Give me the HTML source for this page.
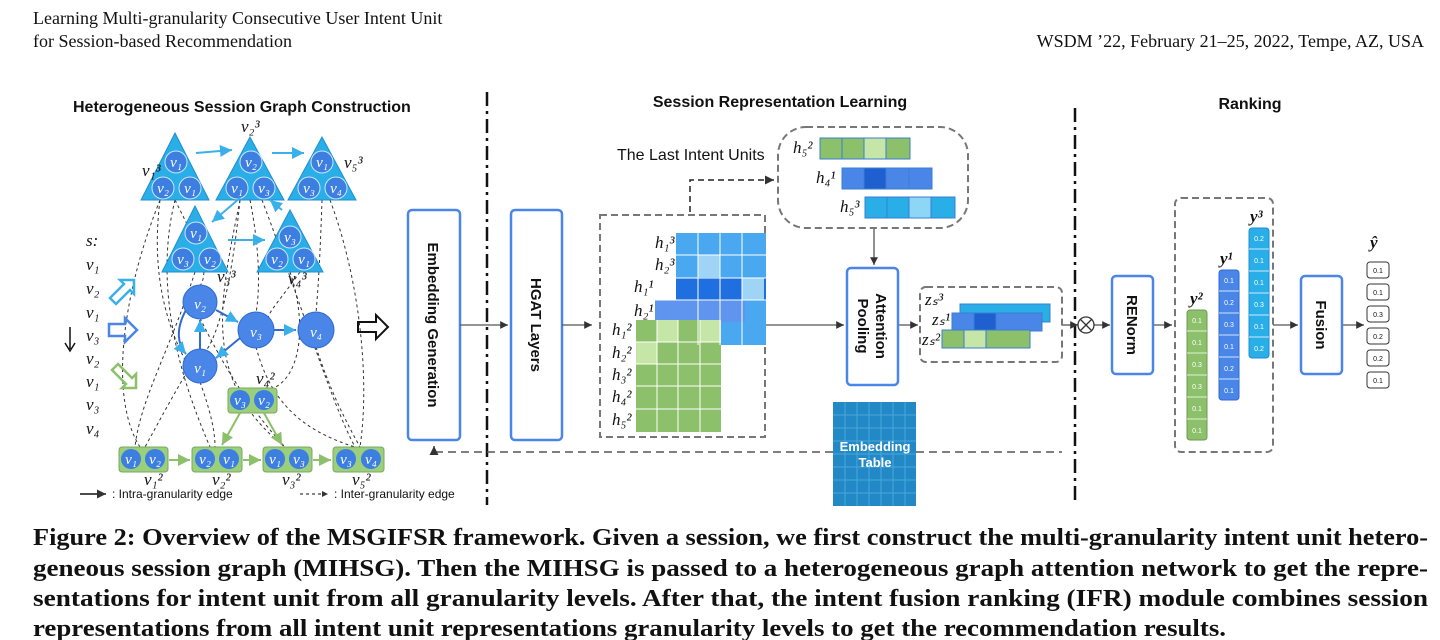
<!DOCTYPE html>
<html><head><meta charset="utf-8"><style>
html,body{margin:0;padding:0;background:#fff;width:1440px;height:640px;overflow:hidden}
svg{display:block}
.h{font-family:"Liberation Sans",sans-serif;font-weight:bold;font-size:16px;fill:#111}
.hd{font-family:"Liberation Serif",serif;font-size:18px;fill:#111}
.cap{font-family:"Liberation Serif",serif;font-weight:bold;font-size:24.5px;fill:#111}
.v{font-family:"Liberation Serif",serif;font-style:italic;font-size:17px;fill:#111}
.vw{font-family:"Liberation Serif",serif;font-style:italic;font-size:15px;fill:#fff}
.bt{font-family:"Liberation Sans",sans-serif;font-weight:bold;font-size:15px;fill:#111}
.s{font-family:"Liberation Sans",sans-serif;font-size:12px;fill:#111}
.n{font-family:"Liberation Sans",sans-serif;font-size:7px;fill:#fff;text-anchor:middle}
</style></head><body>
<svg width="1440" height="640" viewBox="0 0 1440 640" xmlns="http://www.w3.org/2000/svg">
<defs>
<marker id="a" markerWidth="8" markerHeight="8" refX="6" refY="3" orient="auto"><path d="M0,0 L6,3 L0,6z" fill="#333"/></marker>
<marker id="ab" markerWidth="8" markerHeight="8" refX="6" refY="3" orient="auto"><path d="M0,0 L6,3 L0,6z" fill="#3ab0ea"/></marker>
<marker id="ag" markerWidth="8" markerHeight="8" refX="6" refY="3" orient="auto"><path d="M0,0 L6,3 L0,6z" fill="#8cc06a"/></marker>
</defs>
<text class="hd" x="33" y="24">Learning Multi-granularity Consecutive User Intent Unit</text>
<text class="hd" x="33" y="47">for Session-based Recommendation</text>
<text class="hd" x="1424" y="47" text-anchor="end">WSDM ’22, February 21–25, 2022, Tempe, AZ, USA</text>

<text class="h" x="73" y="112">Heterogeneous Session Graph Construction</text>
<text class="h" x="780" y="107" text-anchor="middle">Session Representation Learning</text>
<text class="h" x="1250" y="109" text-anchor="middle">Ranking</text>

<line x1="487" y1="92" x2="487" y2="505" stroke="#111" stroke-width="2.5" stroke-dasharray="14,5,3,5"/>
<line x1="1075" y1="108" x2="1075" y2="505" stroke="#111" stroke-width="2.5" stroke-dasharray="14,5,3,5"/>

<g fill="none" stroke="#333" stroke-width="1" stroke-dasharray="3,3">
<path d="M160,200 C120,300 110,400 140,447"/><path d="M175,200 C150,300 190,400 210,447"/>
<path d="M240,200 C220,300 200,380 285,447"/><path d="M262,200 C300,300 330,400 355,447"/>
<path d="M330,200 C360,280 370,380 360,447"/><path d="M195,272 C170,350 140,400 135,447"/>
<path d="M290,272 C310,330 300,400 250,390"/><path d="M200,318 C230,380 260,420 285,447"/>
<path d="M200,350 C170,400 160,420 145,447"/><path d="M256,347 C270,400 300,430 355,447"/>
<path d="M316,347 C330,390 345,420 360,447"/><path d="M200,382 C210,410 215,430 215,447"/>
<path d="M175,200 C200,250 210,270 200,286"/><path d="M250,200 C260,250 260,290 256,313"/>
<path d="M322,200 C320,260 318,290 316,313"/><path d="M160,200 C150,280 170,330 185,360"/>
<path d="M300,272 C280,300 270,310 268,318"/><path d="M240,200 C230,300 215,340 205,352"/>
</g>
<g fill="#2aaee8" stroke="#1e8fd0" stroke-width="1">
<polygon points="175,133 141,200 209,200"/><polygon points="250,137 216,200 284,200"/>
<polygon points="322,137 288,200 356,200"/><polygon points="195,206 162,272 228,272"/>
<polygon points="290,210 257,272 323,272"/>
</g>
<g fill="#3d7fe0" stroke="#c9e6fb" stroke-width="1">
<circle cx="176" cy="162" r="11"/><circle cx="163" cy="188" r="11"/><circle cx="190" cy="188" r="11"/>
<circle cx="251" cy="162" r="11"/><circle cx="237" cy="188" r="11"/><circle cx="264" cy="188" r="11"/>
<circle cx="322" cy="162" r="11"/><circle cx="309" cy="188" r="11"/><circle cx="336" cy="188" r="11"/>
<circle cx="196" cy="233" r="11"/><circle cx="183" cy="259" r="11"/><circle cx="210" cy="259" r="11"/>
<circle cx="290" cy="237" r="11"/><circle cx="277" cy="259" r="11"/><circle cx="304" cy="259" r="11"/>
</g>
<g class="vw" text-anchor="middle">
<text x="176" y="167">v₁</text><text x="163" y="193">v₂</text><text x="190" y="193">v₁</text>
<text x="251" y="167">v₂</text><text x="237" y="193">v₁</text><text x="264" y="193">v₃</text>
<text x="322" y="167">v₁</text><text x="309" y="193">v₃</text><text x="336" y="193">v₄</text>
<text x="196" y="238">v₁</text><text x="183" y="264">v₃</text><text x="210" y="264">v₂</text>
<text x="290" y="242">v₃</text><text x="277" y="264">v₂</text><text x="304" y="264">v₁</text>
</g>
<g class="v" font-size="13"><text x="142" y="176">v₁³</text><text x="241" y="132">v₂³</text><text x="344" y="168">v₅³</text>
<text x="217" y="282">v₃³</text><text x="288" y="284">v₄³</text></g>
<g stroke="#3ab0ea" stroke-width="2" fill="none" marker-end="url(#ab)">
<line x1="196" y1="153" x2="232" y2="150"/><line x1="272" y1="153" x2="304" y2="153"/>
<line x1="240" y1="198" x2="212" y2="222"/><line x1="228" y1="240" x2="265" y2="240"/><line x1="282" y1="210" x2="270" y2="200"/>
</g>
<g stroke="#2f6bd0" stroke-width="2" fill="none" marker-end="url(#ab)">
<line x1="216" y1="310" x2="238" y2="322"/><line x1="273" y1="330" x2="296" y2="330"/>
<line x1="200" y1="350" x2="200" y2="320"/><line x1="240" y1="338" x2="216" y2="358"/>
<path d="M186,310 C175,330 178,345 186,354"/>
</g>
<g fill="#4a86e8" stroke="#2f6bd0"><circle cx="200" cy="302" r="17"/><circle cx="256" cy="330" r="18"/>
<circle cx="316" cy="330" r="18"/><circle cx="200" cy="366" r="17"/></g>
<g class="vw" font-size="20" text-anchor="middle"><text x="200" y="309">v₂</text><text x="256" y="337">v₃</text><text x="316" y="337">v₄</text><text x="200" y="373">v₁</text></g>
<g fill="#9ccf7c" stroke="#7aa860"><rect x="119" y="447" width="49" height="25" rx="3"/><rect x="192" y="447" width="50" height="25" rx="3"/>
<rect x="263" y="447" width="49" height="25" rx="3"/><rect x="333" y="447" width="51" height="25" rx="3"/><rect x="228" y="388" width="49" height="25" rx="3"/></g>
<g fill="#3d7fe0"><circle cx="131" cy="459" r="10"/><circle cx="155" cy="459" r="10"/><circle cx="205" cy="459" r="10"/><circle cx="229" cy="459" r="10"/>
<circle cx="275" cy="459" r="10"/><circle cx="299" cy="459" r="10"/><circle cx="346" cy="459" r="10"/><circle cx="371" cy="459" r="10"/>
<circle cx="240" cy="400" r="10"/><circle cx="264" cy="400" r="10"/></g>
<g class="vw" text-anchor="middle" font-size="14"><text x="131" y="464">v₁</text><text x="155" y="464">v₂</text><text x="205" y="464">v₂</text><text x="229" y="464">v₁</text>
<text x="275" y="464">v₁</text><text x="299" y="464">v₃</text><text x="346" y="464">v₃</text><text x="371" y="464">v₄</text><text x="240" y="405">v₃</text><text x="264" y="405">v₂</text></g>
<g class="v" font-size="13"><text x="144" y="485">v₁²</text><text x="212" y="485">v₂²</text><text x="282" y="485">v₃²</text><text x="352" y="485">v₅²</text><text x="256" y="384">v₄²</text></g>
<g stroke="#8cc06a" stroke-width="2" marker-end="url(#ag)"><line x1="169" y1="460" x2="190" y2="460"/><line x1="243" y1="460" x2="261" y2="460"/>
<line x1="313" y1="460" x2="331" y2="460"/><line x1="240" y1="413" x2="222" y2="445"/><line x1="264" y1="413" x2="282" y2="445"/></g>
<g class="v"><text x="86" y="246">s:</text><text x="86" y="270">v₁</text><text x="86" y="294">v₂</text><text x="86" y="318">v₁</text>
<text x="86" y="341">v₃</text><text x="86" y="364">v₂</text><text x="86" y="387">v₁</text><text x="86" y="410">v₃</text><text x="86" y="434">v₄</text></g>
<path d="M70,327 v22 M65,343 l5,8 l5,-8" stroke="#111" stroke-width="1.5" fill="none"/>
<path d="M110,298 l14,-14 l-4,-4 h14 v14 l-4,-4 l-14,14z" fill="none" stroke="#3ab0ea" stroke-width="2.5"/>
<path d="M109,324 h16 v-6 l12,12 l-12,12 v-6 h-16z" fill="none" stroke="#4a86e8" stroke-width="2.5"/>
<path d="M112,370 l14,14 l-4,4 h14 v-14 l-4,4 l-14,-14z" fill="none" stroke="#8cc06a" stroke-width="2.5"/>
<path d="M358,322 h18 v-7 l12,12 l-12,12 v-7 h-18z" fill="none" stroke="#111" stroke-width="2"/>
<line x1="80" y1="494" x2="106" y2="494" stroke="#111" stroke-width="1.5" marker-end="url(#a)"/>
<text class="s" x="112" y="498">: Intra-granularity edge</text>
<line x1="300" y1="494" x2="328" y2="494" stroke="#111" stroke-dasharray="3,3" marker-end="url(#a)"/>
<text class="s" x="334" y="498">: Inter-granularity edge</text>

<rect x="408" y="210" width="52" height="230" rx="4" fill="#fff" stroke="#4a86e8" stroke-width="2.5"/>
<text class="bt" transform="translate(428,325) rotate(90)" text-anchor="middle">Embedding Generation</text>
<rect x="511" y="210" width="51" height="230" rx="4" fill="#fff" stroke="#4a86e8" stroke-width="2.5"/>
<text class="bt" transform="translate(531,325) rotate(90)" text-anchor="middle">HGAT Layers</text>
<g stroke="#555" stroke-width="1.3" fill="none" marker-end="url(#a)">
<line x1="460" y1="325" x2="508" y2="325"/><line x1="562" y1="325" x2="592" y2="325"/>
<line x1="766" y1="325" x2="844" y2="325"/><line x1="898" y1="325" x2="918" y2="325"/>
<line x1="1062" y1="325" x2="1078" y2="325"/><line x1="1094" y1="325" x2="1110" y2="325"/>
<line x1="1153" y1="325" x2="1172" y2="325"/><line x1="1273" y1="325" x2="1298" y2="325"/><line x1="1342" y1="325" x2="1364" y2="325"/>
<line x1="874" y1="228" x2="874" y2="265"/>
</g>
<path d="M600,215 H765 V437 H600z" fill="none" stroke="#777" stroke-width="2" stroke-dasharray="7,4"/>
<path d="M690,212 V180 H774" fill="none" stroke="#222" stroke-width="1.5" stroke-dasharray="6,4" marker-end="url(#a)"/>
<text x="617" y="160" font-family="Liberation Sans,sans-serif" font-size="16" fill="#111">The Last Intent Units</text>
<rect x="778" y="127" width="190" height="101" rx="28" fill="none" stroke="#777" stroke-width="2" stroke-dasharray="7,4"/>
<rect x="676" y="233" width="90" height="112" fill="#4aa8f0"/>
<g fill="#1f6fe0"><rect x="676" y="278" width="90" height="22"/></g>
<g fill="#5f95ee"><rect x="655" y="300" width="90" height="22"/></g>
<g fill="#9fd4f6"><rect x="698" y="255" width="22" height="22"/><rect x="742" y="278" width="22" height="22"/></g>
<rect x="636" y="320" width="85" height="112" fill="#8cc06a"/>
<g fill="#c6e6a8"><rect x="657" y="320" width="21" height="22"/><rect x="636" y="342" width="21" height="22"/><rect x="700" y="320" width="21" height="22"/></g>
<g stroke="#fff" stroke-width="1">
<path d="M676,255H766M676,278H766M655,300H766M698,233V345M720,233V345M742,233V345"/>
<path d="M636,342H721M636,364H721M636,386H721M636,409H721M657,320V432M678,320V432M700,320V432"/>
</g>
<g class="v" font-size="15"><text x="655" y="248">h₁³</text><text x="655" y="270">h₂³</text><text x="634" y="292">h₁¹</text><text x="634" y="316">h₂¹</text>
<text x="612" y="335">h₁²</text><text x="612" y="358">h₂²</text><text x="612" y="380">h₃²</text><text x="612" y="402">h₄²</text><text x="612" y="425">h₅²</text></g>
<g stroke="#3a7fd0" stroke-width="1">
<rect x="820" y="138" width="90" height="21" fill="#8cc06a"/><rect x="864" y="138" width="22" height="21" fill="#c6e6a8"/>
<rect x="842" y="168" width="90" height="21" fill="#4a86e8"/><rect x="864" y="168" width="22" height="21" fill="#1f5fd0"/>
<rect x="865" y="197" width="90" height="21" fill="#2aaee8"/><rect x="909" y="197" width="22" height="21" fill="#8dd6f6"/>
<path d="M842,138V159M886,138V159M864,168V189M909,168V189M887,197V218M931,197V218"/>
</g>
<g class="v" font-size="15"><text x="793" y="153">h₅²</text><text x="816" y="183">h₄¹</text><text x="840" y="212">h₅³</text></g>
<rect x="847" y="268" width="51" height="117" rx="4" fill="#fff" stroke="#4a86e8" stroke-width="2.5"/>
<text class="bt" transform="translate(876,326) rotate(90)" text-anchor="middle">Attention</text>
<text class="bt" transform="translate(858,326) rotate(90)" text-anchor="middle">Pooling</text>
<rect x="833" y="402" width="83" height="104" fill="#2389c6"/>
<g stroke="#4aa8dc" stroke-width="1"><path d="M833,415H916M833,428H916M833,441H916M833,454H916M833,467H916M833,480H916M833,493H916M845,402V506M857,402V506M869,402V506M881,402V506M893,402V506M905,402V506"/></g>
<text x="875" y="451" font-family="Liberation Sans,sans-serif" font-weight="bold" font-size="13" fill="#fff" text-anchor="middle">Embedding</text>
<text x="875" y="467" font-family="Liberation Sans,sans-serif" font-weight="bold" font-size="13" fill="#fff" text-anchor="middle">Table</text>
<path d="M833,452 H434 V446" fill="none" stroke="#555" stroke-width="1.5" stroke-dasharray="8,5" marker-end="url(#a)"/>
<line x1="916" y1="452" x2="1062" y2="452" stroke="#555" stroke-width="1.5" stroke-dasharray="8,5"/>
<rect x="920" y="287" width="142" height="75" rx="6" fill="none" stroke="#777" stroke-width="2" stroke-dasharray="7,4"/>
<g stroke="#3a7fd0" stroke-width="1">
<rect x="960" y="304" width="90" height="18" fill="#2aaee8"/>
<rect x="952" y="313" width="90" height="18" fill="#4a86e8"/><rect x="974" y="313" width="22" height="18" fill="#1f5fd0"/>
<rect x="942" y="330" width="88" height="18" fill="#8cc06a"/><rect x="964" y="330" width="22" height="18" fill="#c6e6a8"/>
</g>
<g class="v" font-size="14"><text x="925" y="305">zₛ³</text><text x="932" y="325">zₛ¹</text><text x="922" y="345">zₛ²</text></g>
<circle cx="1086" cy="325" r="8" fill="#fff" stroke="#333" stroke-width="1.3"/>
<path d="M1080,319 l12,12 M1092,319 l-12,12" stroke="#333" stroke-width="1.3"/>
<rect x="1112" y="276" width="41" height="98" rx="4" fill="#fff" stroke="#4a86e8" stroke-width="2.5"/>
<text class="bt" transform="translate(1127,325) rotate(90)" text-anchor="middle">RENorm</text>
<rect x="1175" y="198" width="98" height="254" rx="6" fill="none" stroke="#777" stroke-width="2" stroke-dasharray="7,4"/>
<g fill="#8cc06a" stroke="#6a9a50"><rect x="1187" y="310" width="20" height="130" rx="3"/></g>
<g fill="#4a86e8" stroke="#2f6bd0"><rect x="1219" y="270" width="20" height="130" rx="3"/></g>
<g fill="#2aaee8" stroke="#1e8fd0"><rect x="1249" y="228" width="20" height="130" rx="3"/></g>
<g stroke="#fff" stroke-width="0.8"><path d="M1187,331h20M1187,353h20M1187,375h20M1187,397h20M1187,419h20 M1219,291h20M1219,313h20M1219,335h20M1219,357h20M1219,379h20 M1249,249h20M1249,271h20M1249,293h20M1249,315h20M1249,337h20"/></g>
<g class="n"><text x="1197" y="323">0.1</text><text x="1197" y="345">0.1</text><text x="1197" y="367">0.3</text><text x="1197" y="389">0.3</text><text x="1197" y="411">0.1</text><text x="1197" y="433">0.1</text>
<text x="1229" y="283">0.1</text><text x="1229" y="305">0.2</text><text x="1229" y="327">0.3</text><text x="1229" y="349">0.1</text><text x="1229" y="371">0.2</text><text x="1229" y="393">0.1</text>
<text x="1259" y="241">0.2</text><text x="1259" y="263">0.1</text><text x="1259" y="285">0.1</text><text x="1259" y="307">0.3</text><text x="1259" y="329">0.1</text><text x="1259" y="351">0.2</text></g>
<g class="v" font-size="19" font-weight="bold"><text x="1190" y="304">y²</text><text x="1220" y="264">y¹</text><text x="1250" y="222">y³</text></g>
<rect x="1301" y="276" width="41" height="98" rx="4" fill="#fff" stroke="#4a86e8" stroke-width="2.5"/>
<text class="bt" transform="translate(1316,325) rotate(90)" text-anchor="middle">Fusion</text>
<text class="v" x="1370" y="248" font-size="17" font-weight="bold">ŷ</text>
<g fill="#fff" stroke="#333" stroke-width="1">
<rect x="1367" y="262" width="22" height="16" rx="3"/><rect x="1367" y="284" width="22" height="16" rx="3"/><rect x="1367" y="306" width="22" height="16" rx="3"/>
<rect x="1367" y="328" width="22" height="16" rx="3"/><rect x="1367" y="350" width="22" height="16" rx="3"/><rect x="1367" y="372" width="22" height="16" rx="3"/></g>
<g class="n" style="fill:#111"><text x="1378" y="273">0.1</text><text x="1378" y="295">0.1</text><text x="1378" y="317">0.3</text><text x="1378" y="339">0.2</text><text x="1378" y="361">0.2</text><text x="1378" y="383">0.1</text></g>

<text class="cap" x="33" y="545" textLength="1395" lengthAdjust="spacingAndGlyphs">Figure 2: Overview of the MSGIFSR framework. Given a session, we first construct the multi-granularity intent unit hetero-</text>
<text class="cap" x="33" y="576" textLength="1395" lengthAdjust="spacingAndGlyphs">geneous session graph (MIHSG). Then the MIHSG is passed to a heterogeneous graph attention network to get the repre-</text>
<text class="cap" x="33" y="606" textLength="1395" lengthAdjust="spacingAndGlyphs">sentations for intent unit from all granularity levels. After that, the intent fusion ranking (IFR) module combines session</text>
<text class="cap" x="33" y="636" textLength="1193" lengthAdjust="spacingAndGlyphs">representations from all intent unit representations granularity levels to get the recommendation results.</text>
</svg>
</body></html>
